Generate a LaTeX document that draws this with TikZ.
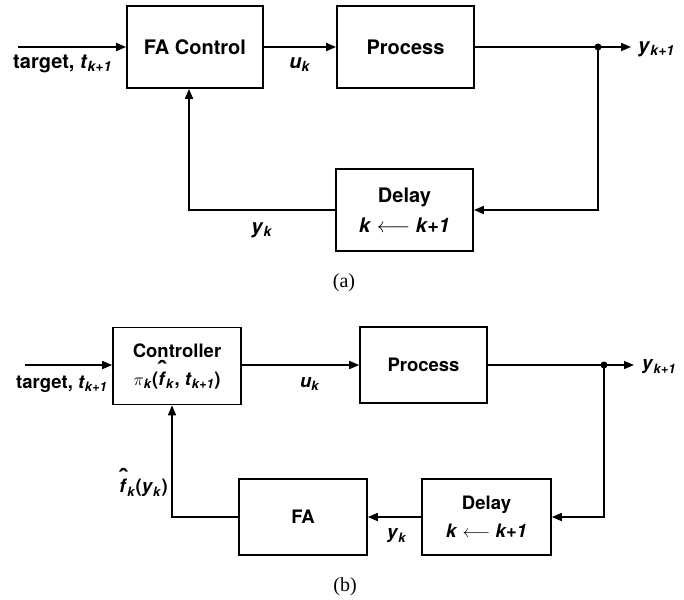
\documentclass[tikz,border=0pt]{standalone}
\usepackage{fontspec}
\setmainfont{TeX Gyre Heros}
\newfontfamily\capfont{Liberation Serif}
\usetikzlibrary{arrows.meta}

% bold-italic variable with a bold-italic subscript
\newcommand\varsub[2]{\textit{#1}\textsubscript{\textit{#2}}}
% f with a circumflex hat above it
\newcommand\hatf{\ooalign{\textit{f}\cr\hidewidth\raisebox{0.34em}{\scalebox{1.5}[1.3]{\char"02C6}}\hidewidth\cr}}

\tikzset{
  blk/.style={draw, line width=1.8pt, inner sep=0pt, align=center,
              font=\fontsize{20}{30}\selectfont\bfseries},
  blkb/.style={blk, line width=1.6pt, font=\fontsize{18.5}{28}\selectfont\bfseries},
  sig/.style={line width=1.8pt},
  sigb/.style={line width=1.6pt},
  arr/.style={sig, -{Triangle[length=10pt,width=8pt]}},
  arrb/.style={sigb, -{Triangle[length=10pt,width=8pt]}},
  lbl/.style={inner sep=0pt, font=\fontsize{20}{22}\selectfont\bfseries},
  lblb/.style={inner sep=0pt, font=\fontsize{18.5}{21}\selectfont\bfseries},
  captext/.style={inner sep=0pt, font=\fontsize{20}{22}\capfont},
  junction/.style={circle, fill, inner sep=0pt, minimum size=7pt},
}

\begin{document}
\begin{tikzpicture}[x=1pt, y=-1pt]
\useasboundingbox (0,0) rectangle (684,599);

% ---------------- (a) ----------------
\node[blk, minimum width=136pt, minimum height=82pt] (fa)   at (195,47)    {FA Control};
\node[blk, minimum width=137pt, minimum height=82pt] (proc) at (405.5,47)  {Process};
\node[blk, minimum width=137pt, minimum height=82pt] (dela) at (404.5,210) {Delay\\\textit{k} $\longleftarrow$ \textit{k+1}};
\node[junction] (dota) at (598,47) {};
\coordinate (ina)  at (18,47);
\coordinate (outa) at (631,47);

\draw[arr] (ina) -- (fa.west);
\draw[arr] (fa.east) -- (proc.west);
\draw[sig] (proc.east) -- (dota.center);
\draw[arr] (dota.center) -- (outa);
\draw[arr] (dota.center) |- (dela.east);
\draw[arr] (dela.west) -| ([xshift=-6pt]fa.south);

\node[lbl, anchor=west] (tga) at (13,64) {target, \varsub{t}{k+1}};
\node[lbl] (uka) at (300,65) {\varsub{u}{k}};
\node[lbl, anchor=west] (yoa) at (638,49) {\varsub{y}{k+1}};
\node[lbl] (yka) at (262,230) {\varsub{y}{k}};
\node[captext] (capa) at (344,283) {(a)};

% ---------------- (b) ----------------
\node[blkb, minimum width=128pt, minimum height=77pt] (ctrl)  at (177,366) {Controller\\$\pi$\textsubscript{\textit{k}}(\hatf\textsubscript{\textit{k}}, \varsub{t}{k+1})};
\node[blkb, minimum width=127pt, minimum height=76pt] (procb) at (423.5,365) {Process};
\node[blkb, minimum width=129pt, minimum height=76pt] (delb)  at (486.5,517) {Delay\\\textit{k} $\longleftarrow$ \textit{k+1}};
\node[blkb, minimum width=128pt, minimum height=76pt] (fab)   at (303,517)   {FA};
\node[junction] (dotb) at (604,365) {};
\coordinate (inb)  at (25,365);
\coordinate (outb) at (634,365);

\draw[arrb] (inb) -- (ctrl.west |- inb);
\draw[arrb] (ctrl.east |- inb) -- (procb.west);
\draw[sigb] (procb.east) -- (dotb.center);
\draw[arrb] (dotb.center) -- (outb);
\draw[arrb] (dotb.center) |- (delb.east);
\draw[arrb] (delb.west) -- (fab.east);
\draw[arrb] (fab.west) -| ([xshift=-5pt]ctrl.south);

\node[lblb, anchor=west] (tgb) at (16,384) {target, \varsub{t}{k+1}};
\node[lblb] (ukb) at (310,384) {\varsub{u}{k}};
\node[lblb, anchor=west] (yob) at (642,367) {\varsub{y}{k+1}};
\node[lblb] (ykb) at (397,536) {\varsub{y}{k}};
\node[lblb, anchor=east] (fhb) at (168,488) {\hatf\textsubscript{\textit{k}}(\varsub{y}{k})};
\node[captext] (capb) at (345,587) {(b)};
\end{tikzpicture}
\end{document}
